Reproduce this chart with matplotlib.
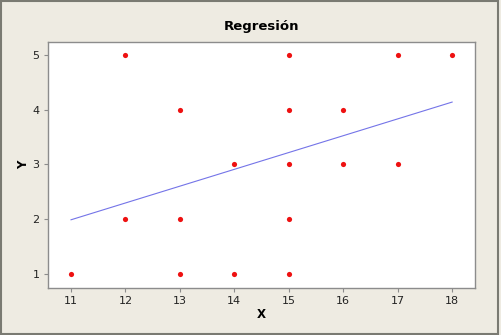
import matplotlib.pyplot as plt
from matplotlib.patches import Rectangle

# puntos observados
x = [11, 12, 12, 13, 13, 13, 14, 14, 15, 15, 15, 15, 15, 16, 16, 17, 17, 18]
y = [1, 5, 2, 4, 2, 1, 3, 1, 5, 4, 3, 2, 1, 4, 3, 5, 3, 5]

# recta de regresion (extremos)
recta_x = [11, 18]
recta_y = [1.99, 4.14]

xticks = [11, 12, 13, 14, 15, 16, 17, 18]
yticks = [1, 2, 3, 4, 5]

fondo = '#eeebe2'
gris = '#8c8c8c'

fig = plt.figure(figsize=(5.01, 3.35), dpi=100, facecolor=fondo)
ax = fig.add_axes([0.0958, 0.1403, 0.8523, 0.7343])
ax.set_facecolor('white')

ax.plot(recta_x, recta_y, color='#7474e8', lw=0.8)
ax.scatter(x, y, s=14, color='#ee1111', zorder=3, linewidths=0)

ax.set_xlim(10.577, 18.42)
ax.set_ylim(0.744, 5.237)
ax.set_xticks(xticks)
ax.set_yticks(yticks)

for s in ax.spines.values():
    s.set_color(gris)
    s.set_linewidth(1.0)
ax.tick_params(colors=gris, length=3, width=0.8, labelsize=8, labelcolor='#222222', pad=3)

ax.set_xlabel('X', fontweight='bold', fontsize=8.5, labelpad=1)
ax.set_ylabel('Y', fontweight='bold', fontsize=8.5, labelpad=2)
ax.set_title('Regresión', fontweight='bold', fontsize=9.5, pad=9)

# marco de la ventana
fig.patches.append(Rectangle((0.002, 0.004), 0.993, 0.992, transform=fig.transFigure,
                             fill=False, edgecolor='#7a7a72', lw=1.5))

fig.savefig('out.png', dpi=100, facecolor=fondo)
